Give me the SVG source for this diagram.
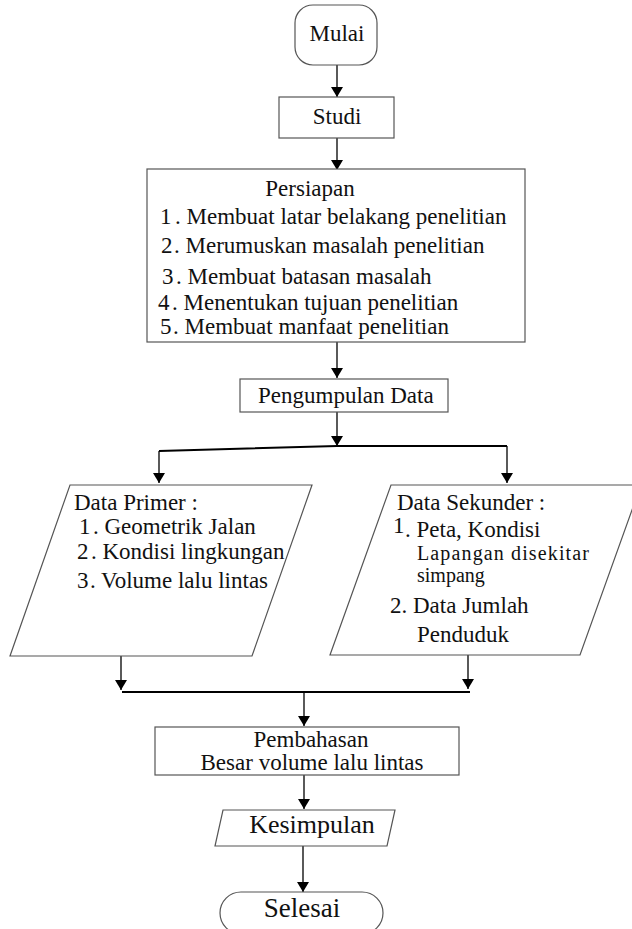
<svg xmlns="http://www.w3.org/2000/svg" width="632" height="929" viewBox="0 0 632 929">
<style>
.box{fill:#fff;stroke:#555;stroke-width:1.2}
.t{font-family:"Liberation Serif","Times New Roman",serif;font-size:23px;fill:#111}
.s{font-size:20px}
.c{fill:none;stroke:#000;stroke-width:1.3}
.bar{fill:none;stroke:#000;stroke-width:2}
</style>
<defs>
<marker id="ah" viewBox="0 0 10 14" refX="10" refY="7" markerWidth="10" markerHeight="14" markerUnits="userSpaceOnUse" orient="auto">
<path d="M0,1 L10,7 L0,13 Z" fill="#000"/>
</marker>
</defs>
<rect width="632" height="929" fill="#fff"/>
<g id="connectors">
<line class="c" x1="337" y1="65" x2="337" y2="97" marker-end="url(#ah)"/>
<line class="c" x1="337" y1="138" x2="337" y2="170" marker-end="url(#ah)"/>
<line class="c" x1="337" y1="342" x2="337" y2="378" marker-end="url(#ah)"/>
<line class="c" x1="337" y1="412" x2="337" y2="446" marker-end="url(#ah)"/>
<polyline class="bar" points="159,451 337,446 507,446"/>
<line class="c" x1="159" y1="451" x2="159" y2="483" marker-end="url(#ah)"/>
<line class="c" x1="507" y1="446" x2="507" y2="483" marker-end="url(#ah)"/>
<line class="c" x1="121" y1="656" x2="121" y2="690" marker-end="url(#ah)"/>
<line class="c" x1="468" y1="655" x2="468" y2="689" marker-end="url(#ah)"/>
<line class="bar" x1="122" y1="692" x2="470" y2="692"/>
<line class="c" x1="304" y1="692" x2="304" y2="726" marker-end="url(#ah)"/>
<line class="c" x1="304" y1="775" x2="304" y2="809" marker-end="url(#ah)"/>
<line class="c" x1="303" y1="846" x2="303" y2="892" marker-end="url(#ah)"/>
</g>
<g id="mulai">
<rect class="box" x="295" y="5" width="82" height="60" rx="18"/>
<text class="t" x="337" y="41" text-anchor="middle">Mulai</text>
</g>
<g id="studi">
<rect class="box" x="279" y="97" width="115" height="41"/>
<text class="t" x="337" y="124" text-anchor="middle">Studi</text>
</g>
<g id="persiapan">
<rect class="box" x="147" y="169" width="378" height="173"/>
<text class="t" x="310" y="196" text-anchor="middle">Persiapan</text>
<text class="t" x="160" y="224"><tspan>1</tspan><tspan x="175">. Membuat latar belakang penelitian</tspan></text>
<text class="t" x="161" y="253"><tspan>2</tspan><tspan x="174">. Merumuskan masalah penelitian</tspan></text>
<text class="t" x="162" y="284"><tspan>3</tspan><tspan x="176">. Membuat batasan masalah</tspan></text>
<text class="t" x="158" y="310"><tspan>4</tspan><tspan x="172">. Menentukan tujuan penelitian</tspan></text>
<text class="t" x="160" y="334"><tspan>5</tspan><tspan x="173">. Membuat manfaat penelitian</tspan></text>
</g>
<g id="pengumpulan">
<rect class="box" x="240" y="379" width="208" height="33"/>
<text class="t" x="258" y="403">Pengumpulan Data</text>
</g>
<g id="data-primer">
<polygon class="box" points="70,485 312,485 252,656 10,656"/>
<text class="t" x="74" y="510">Data Primer :</text>
<text class="t" x="79" y="534"><tspan>1</tspan><tspan x="93">. Geometrik Jalan</tspan></text>
<text class="t" x="77" y="559"><tspan>2</tspan><tspan x="91">. Kondisi lingkungan</tspan></text>
<text class="t" x="77" y="588"><tspan>3</tspan><tspan x="90">. Volume lalu lintas</tspan></text>
</g>
<g id="data-sekunder">
<polygon class="box" points="391,485 641,485 580,655 330,655"/>
<text class="t" x="397" y="510">Data Sekunder :</text>
<text class="t" x="393" y="533">1</text>
<text class="t" x="405" y="537">. Peta, Kondisi</text>
<text class="t s" x="417" y="560" textLength="172">Lapangan disekitar</text>
<text class="t s" x="417" y="582">simpang</text>
<text class="t" x="390" y="613">2. Data Jumlah</text>
<text class="t" x="417" y="642">Penduduk</text>
</g>
<g id="pembahasan">
<rect class="box" x="155" y="727" width="304" height="48"/>
<text class="t" x="311" y="747" text-anchor="middle">Pembahasan</text>
<text class="t" x="312" y="770" text-anchor="middle">Besar volume lalu lintas</text>
</g>
<g id="kesimpulan">
<polygon class="box" points="223,810 395,810 387,846 215,846"/>
<text class="t" x="312" y="833" text-anchor="middle" style="font-size:26px">Kesimpulan</text>
</g>
<g id="selesai">
<rect class="box" x="220" y="892" width="163" height="42" rx="21"/>
<text class="t" x="302" y="917" text-anchor="middle" style="font-size:27px">Selesai</text>
</g>
</svg>
